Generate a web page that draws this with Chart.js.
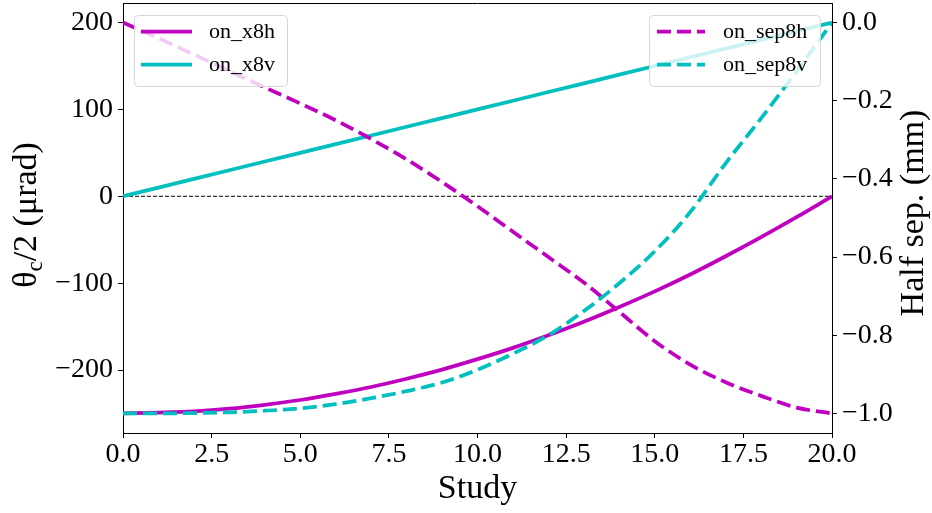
<!DOCTYPE html>
<html>
<head>
<meta charset="utf-8">
<script src="https://cdn.jsdelivr.net/npm/chart.js@4/dist/chart.umd.min.js"></script>
<style>
html,body{margin:0;padding:0;background:#fff;}
#wrap{width:932px;height:513px;}
</style>
</head>
<body>
<div id="wrap"><canvas id="c" width="932" height="513"></canvas></div>
<script>
// ---- data ----
const studies  = [0,1,2,3,4,5,6,7,8,9,10,11,12,13,14,15,16,17,18,19,20];
const onX8h    = [-250,-249,-247.5,-244.5,-240,-234.5,-227.5,-219.5,-210,-199.5,-187.5,-174.5,-160,-144.5,-127.5,-109.5,-90,-69,-47,-24,0];
const onX8v    = [0,10,20,30,40,50,60,70,80,90,100,110,120,130,140,150,160,170,180,190,200];
const onSep8h  = [0,-0.04,-0.082,-0.124,-0.166,-0.207,-0.25,-0.298,-0.35,-0.408,-0.47,-0.535,-0.6,-0.665,-0.74,-0.815,-0.875,-0.92,-0.955,-0.985,-1.0];
const onSep8v  = [-1.0,-1.0,-0.999,-0.997,-0.993,-0.987,-0.976,-0.961,-0.943,-0.921,-0.888,-0.847,-0.8,-0.738,-0.667,-0.585,-0.485,-0.36,-0.245,-0.125,0.0];
const refLineX = [0,20];
const refLineY = [0,0];

const xTicks     = [0,2.5,5,7.5,10,12.5,15,17.5,20];
const leftTicks  = [-200,-100,0,100,200];
const rightTicks = [-1.0,-0.8,-0.6,-0.4,-0.2,0.0];

const seriesNames = ['on_x8h','on_x8v','on_sep8h','on_sep8v'];
const xTitle = 'Study';
const rightTitle = 'Half sep. (mm)';

const MAG = '#bf00bf', CYA = '#00bfbf';
const FONT = "'Liberation Serif','Times New Roman',serif";
const LW = 3.75, DASH = [14,6];

function pts(xs, ys){ return xs.map((x,i)=>({x:x,y:ys[i]})); }
function minus(s){ return s.replace('-', '\u2212'); }

const overlay = {
  id:'overlay',
  afterDatasetsDraw(chart){
    const ctx = chart.ctx;
    ctx.save();
    function box(x0,y0,x1,y1){
      const r=4;
      ctx.beginPath();
      ctx.moveTo(x0+r,y0); ctx.lineTo(x1-r,y0); ctx.quadraticCurveTo(x1,y0,x1,y0+r);
      ctx.lineTo(x1,y1-r); ctx.quadraticCurveTo(x1,y1,x1-r,y1);
      ctx.lineTo(x0+r,y1); ctx.quadraticCurveTo(x0,y1,x0,y1-r);
      ctx.lineTo(x0,y0+r); ctx.quadraticCurveTo(x0,y0,x0+r,y0);
      ctx.closePath();
      ctx.fillStyle='rgba(255,255,255,0.8)'; ctx.fill();
      ctx.strokeStyle='#d6d6d6'; ctx.lineWidth=1; ctx.stroke();
    }
    function entry(x0,x1,y,tx,color,dash,w,label){
      ctx.beginPath(); ctx.setLineDash(dash); ctx.lineWidth=w; ctx.strokeStyle=color;
      ctx.moveTo(x0,y); ctx.lineTo(x1,y); ctx.stroke(); ctx.setLineDash([]);
      ctx.fillStyle='#000'; ctx.font='22px '+FONT; ctx.textAlign='left'; ctx.textBaseline='middle';
      ctx.fillText(label,tx,y+1);
    }
    box(134.5,15.5,287.5,86.5);
    entry(141,192,31.5,209,MAG,[],LW,seriesNames[0]);
    entry(141,192,64.5,209,CYA,[],LW,seriesNames[1]);
    box(649.5,15.5,820.5,86.5);
    entry(657,705,31.5,723,MAG,DASH,LW,seriesNames[2]);
    entry(657,705,64.5,723,CYA,DASH,LW,seriesNames[3]);
    ctx.restore();
  },
  afterDraw(chart){
    const ctx = chart.ctx, a = chart.chartArea;
    ctx.save();
    ctx.strokeStyle='#000'; ctx.lineWidth=1;
    ctx.beginPath(); ctx.moveTo(a.left, a.top+0.5); ctx.lineTo(a.right, a.top+0.5); ctx.stroke();
    ctx.fillStyle='#000';
    const big='34px '+FONT, small='23px '+FONT;
    ctx.font=big; ctx.textAlign='center'; ctx.textBaseline='alphabetic';
    ctx.fillText(xTitle,(a.left+a.right)/2,498);
    const cy=(a.top+a.bottom)/2;
    ctx.save();
    ctx.translate(36,cy-3); ctx.rotate(-Math.PI/2);
    const parts=[['\u03B8',big,0],['c',small,6],['/2 (\u03BCrad)',big,0]];
    let tw=0; parts.forEach(p=>{ctx.font=p[1]; tw+=ctx.measureText(p[0]).width;});
    let x=-tw/2; ctx.textAlign='left';
    parts.forEach(p=>{ctx.font=p[1]; ctx.fillText(p[0],x,p[2]); x+=ctx.measureText(p[0]).width;});
    ctx.restore();
    ctx.save();
    ctx.translate(923,cy-5); ctx.rotate(-Math.PI/2);
    ctx.font=big; ctx.textAlign='center'; ctx.textBaseline='alphabetic';
    ctx.fillText(rightTitle,0,0);
    ctx.restore();
    ctx.restore();
  }
};

const gridCfg = {drawOnChartArea:false, drawTicks:true, tickLength:5, color:'#000', tickWidth:1};
const borderCfg = {display:true, color:'#000', width:1};
function fixPad(s){ s.paddingTop=0; s.paddingBottom=0; s.paddingLeft=0; s.paddingRight=0; }

new Chart(document.getElementById('c'), {
  type:'line',
  data:{
    datasets:[
      {label:'zero', data:pts(refLineX,refLineY), yAxisID:'yL', borderColor:'#000', borderWidth:1, borderDash:[4,2], pointRadius:0, order:5},
      {label:seriesNames[0], data:pts(studies,onX8h), yAxisID:'yL', borderColor:MAG, borderWidth:LW, pointRadius:0, cubicInterpolationMode:'monotone', order:4},
      {label:seriesNames[1], data:pts(studies,onX8v), yAxisID:'yL', borderColor:CYA, borderWidth:LW, pointRadius:0, order:3},
      {label:seriesNames[2], data:pts(studies,onSep8h), yAxisID:'yR', borderColor:MAG, borderWidth:LW, borderDash:DASH, pointRadius:0, cubicInterpolationMode:'monotone', order:2},
      {label:seriesNames[3], data:pts(studies,onSep8v), yAxisID:'yR', borderColor:CYA, borderWidth:LW, borderDash:DASH, pointRadius:0, cubicInterpolationMode:'monotone', order:1}
    ]
  },
  options:{
    responsive:false, animation:false, devicePixelRatio:1,
    layout:{padding:{top:3,left:0,right:0,bottom:0}},
    plugins:{legend:{display:false}, tooltip:{enabled:false}},
    font:{family:FONT},
    scales:{
      x:{type:'linear', position:'bottom', min:0, max:20,
         grid:gridCfg, border:borderCfg,
         afterBuildTicks:s=>{s.ticks=xTicks.map(v=>({value:v}));},
         afterFit:s=>{s.height=80; fixPad(s);},
         ticks:{color:'#000', padding:0, font:{family:FONT,size:28}, maxRotation:0, autoSkip:false,
                callback:v=>minus(Number(v).toFixed(1))}},
      yL:{type:'linear', position:'left', min:-272.5, max:222.5,
         grid:gridCfg, border:borderCfg,
         afterBuildTicks:s=>{s.ticks=leftTicks.map(v=>({value:v}));},
         afterFit:s=>{s.width=123; fixPad(s);},
         ticks:{color:'#000', padding:5, font:{family:FONT,size:28}, autoSkip:false,
                callback:v=>minus(String(v))}},
      yR:{type:'linear', position:'right', min:-1.05, max:0.05,
         grid:gridCfg, border:borderCfg,
         afterBuildTicks:s=>{s.ticks=rightTicks.map(v=>({value:v}));},
         afterFit:s=>{s.width=100; fixPad(s);},
         ticks:{color:'#000', padding:5, font:{family:FONT,size:28}, autoSkip:false,
                callback:v=>minus(Number(v).toFixed(1))}}
    }
  },
  plugins:[overlay]
});
</script>
</body>
</html>
